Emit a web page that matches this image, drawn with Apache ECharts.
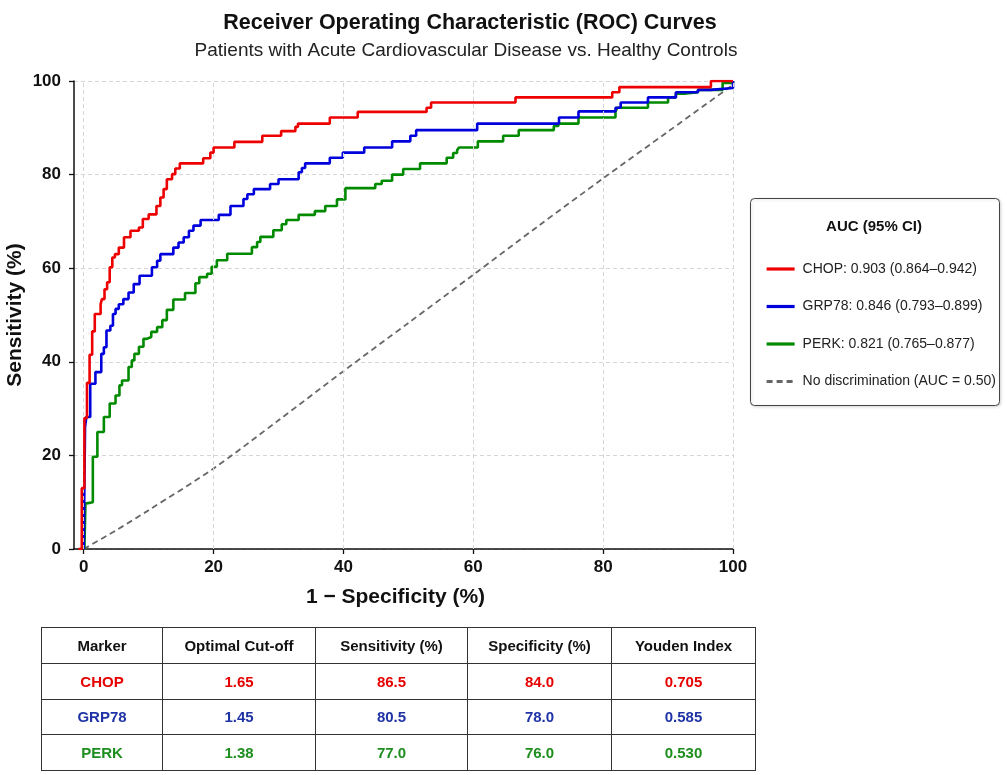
<!DOCTYPE html>
<html>
<head>
<meta charset="utf-8">
<script src="https://cdn.jsdelivr.net/npm/echarts@6/dist/echarts.min.js"></script>
<style>
  html, body { margin: 0; padding: 0; background: #fff; }
  #wrap { position: relative; width: 1007px; height: 775px; }
  #chart { position: absolute; left: 0; top: 0; width: 1007px; height: 775px; }
  #tbl { position: absolute; left: 41px; top: 627px; border-collapse: collapse; table-layout: fixed; width: 714px;
         font-family: "Liberation Sans", Arial, sans-serif; font-weight: bold; }
  #tbl td, #tbl th { border: 1.5px solid #333; text-align: center; padding: 0; height: 34.8px; }
  #tbl th { font-size: 15px; color: #111; }
  #tbl td { font-size: 15px; }
</style>
</head>
<body>
<div id="wrap">
  <div id="chart"></div>
  <table id="tbl"></table>
</div>
<script>
// ---- data ----
const markers = ['CHOP', 'GRP78', 'PERK'];
const aucLabels = ['CHOP: 0.903 (0.864–0.942)', 'GRP78: 0.846 (0.793–0.899)', 'PERK: 0.821 (0.765–0.877)'];
const refLabel = 'No discrimination (AUC = 0.50)';

const chopFpr = [-0.8, -0.3, 0.1, 0.5, 0.9, 1.3, 1.7, 2.6, 2.8, 3.2, 3.6, 4.0, 4.4, 4.8, 5.4, 6.2, 7.2, 8.5, 9.1, 10, 11.2, 11.8, 12.3, 12.8, 13.6, 14.1, 14.8, 18.4, 19.5, 20, 23.2, 27.5, 30.4, 32.6, 33, 37.9, 42.2, 52.8, 53.5, 66.5, 81.4, 82.5, 96.6, 100];
const chopTpr = [0, 13, 28, 35.5, 41.5, 46.5, 50.2, 52.3, 53.4, 55.5, 57, 60.2, 62.3, 63, 64.4, 66.6, 68, 68.7, 70.5, 71.5, 73.3, 75.1, 76.9, 79, 80.1, 81.3, 82.4, 83.5, 84.7, 85.8, 87, 88.3, 89.3, 90.2, 90.9, 92.2, 93.4, 94.3, 95.4, 96.5, 97.6, 98.7, 100, 100];

const grpFpr = [0, 0.2, 0.4, 1.0, 1.8, 2.7, 3.1, 3.5, 4.1, 4.5, 4.9, 5.4, 6.1, 6.9, 7.7, 8.6, 10.5, 11.3, 11.8, 13.8, 14.6, 15.4, 16.2, 16.9, 18, 20.8, 22.6, 24.6, 25.2, 26.2, 28.7, 30, 33.1, 33.6, 34.1, 37.9, 39.9, 43.2, 47.5, 50.3, 51.2, 60.6, 73.2, 76.2, 81.9, 82.7, 86.9, 91.2, 94.6, 96.6, 100];
const grpTpr = [0, 26, 28.2, 35.3, 37.8, 41.7, 43.1, 46.7, 47.7, 50.2, 51.3, 52.3, 53.4, 54.8, 56.6, 58.4, 60.2, 61.6, 63, 64.4, 65.5, 66.6, 68, 69.1, 70.3, 71.4, 73.3, 74.8, 75.8, 76.9, 78, 79, 80.5, 81.4, 82.4, 83.6, 84.7, 85.8, 87.1, 88.3, 89.5, 90.9, 92.2, 93.5, 94.3, 95.4, 96.5, 97.6, 98.1, 98.5, 100];

const perkFpr = [0.1, 0.26, 0.5, 1.4, 2.1, 3.1, 4.0, 4.9, 5.5, 5.9, 6.9, 7.4, 7.8, 8.5, 9.2, 9.7, 10.4, 11.3, 12.1, 12.8, 13.8, 15.6, 17.2, 17.8, 19, 19.7, 20.5, 22.1, 25.9, 26.7, 27.2, 29.2, 30.5, 31.2, 33.1, 35.6, 37.2, 39, 40.3, 44.9, 45.9, 47.5, 49.2, 51.8, 55.9, 56.9, 57.5, 57.8, 60.7, 64.6, 67, 72.4, 73.1, 76.2, 81.9, 82.2, 86.9, 90, 91.2, 92.5, 94.6, 98.4, 99.2, 100];
const perkTpr = [0, 9.7, 10, 19.7, 25, 28.2, 31.1, 32.8, 35, 36, 38.9, 40.3, 41.7, 43.2, 44.9, 45.3, 46.4, 47.4, 48.9, 51.1, 53.3, 54.7, 56.8, 58.1, 58.8, 60.3, 61.7, 63.1, 64.5, 65.6, 66.7, 68.1, 69.4, 70.3, 71.4, 72.2, 73.3, 74.7, 77.1, 78, 78.7, 80, 81.2, 82.4, 83.6, 84.6, 85.2, 85.8, 87.1, 88.3, 89.5, 90.4, 90.9, 92.2, 93.5, 94.3, 95.4, 96.5, 97.3, 97.6, 98.1, 99.6, 99.6, 100];

const refFpr = [0, 5, 10, 20, 30, 40, 50, 60, 70, 80, 90, 100];
const refTpr = [0, 4, 8.3, 17.2, 27.5, 38, 48.3, 58.6, 69, 79.2, 89.2, 99.2];

const tickValues = [0, 20, 40, 60, 80, 100];

const tableHeader = ['Marker', 'Optimal Cut-off', 'Sensitivity (%)', 'Specificity (%)', 'Youden Index'];
const cutoffs = ['1.65', '1.45', '1.38'];
const sensitivities = ['86.5', '80.5', '77.0'];
const specificities = ['84.0', '78.0', '76.0'];
const youden = ['0.705', '0.585', '0.530'];

// ---- styling ----
const lineColors = ['#ee0000', '#0000dd', '#008a00'];
const tableColors = ['#e60000', '#1f33a6', '#1e8e1e'];
const FONT = '"Liberation Sans", Arial, sans-serif';

function pairs(xs, ys) { return xs.map((x, i) => [x, ys[i]]); }

const chart = echarts.init(document.getElementById('chart'), null, { renderer: 'canvas' });

const rocSeries = [
  { fpr: chopFpr, tpr: chopTpr, z: 5 },
  { fpr: grpFpr, tpr: grpTpr, z: 4 },
  { fpr: perkFpr, tpr: perkTpr, z: 3 }
].map((s, i) => ({
  name: markers[i],
  type: 'line',
  step: 'end',
  data: pairs(s.fpr, s.tpr),
  showSymbol: false,
  symbol: 'none',
  z: s.z,
  lineStyle: { color: lineColors[i], width: 2.6 },
  itemStyle: { color: lineColors[i] },
  silent: true
}));

const option = {
  animation: false,
  backgroundColor: '#fff',
  title: [
    { text: 'Receiver Operating Characteristic (ROC) Curves', left: 465, top: 7, textAlign: 'center',
      textStyle: { fontFamily: FONT, fontSize: 21.5, fontWeight: 'bold', color: '#111' } },
    { text: 'Patients with Acute Cardiovascular Disease vs. Healthy Controls', left: 461, top: 36, textAlign: 'center',
      textStyle: { fontFamily: FONT, fontSize: 19, fontWeight: 'normal', color: '#222' } }
  ],
  grid: { left: 74, right: 274, top: 81, bottom: 226, containLabel: false, outerBoundsMode: 'none' },
  xAxis: {
    type: 'value', min: -1.5, max: 100,
    name: '1 − Specificity (%)', nameLocation: 'middle', nameGap: 38,
    nameTextStyle: { fontFamily: FONT, fontSize: 21, fontWeight: 'bold', color: '#111', padding: [0, 16, 0, 0] },
    axisLine: { show: true, onZero: false, lineStyle: { color: '#111', width: 1.5 } },
    axisTick: { show: true, inside: false, length: 5, customValues: tickValues, lineStyle: { color: '#111', width: 1.3 } },
    axisLabel: { customValues: tickValues, margin: 10, fontFamily: FONT, fontSize: 17, fontWeight: 'bold', color: '#111' },
    splitLine: { show: false }
  },
  yAxis: {
    type: 'value', min: 0, max: 100, interval: 20,
    name: 'Sensitivity (%)', nameLocation: 'middle', nameGap: 48, nameMoveOverlap: false,
    nameTextStyle: { fontFamily: FONT, fontSize: 21, fontWeight: 'bold', color: '#111' },
    axisLine: { show: true, onZero: false, lineStyle: { color: '#111', width: 1.5 } },
    axisTick: { show: true, inside: false, length: 5, lineStyle: { color: '#111', width: 1.3 } },
    axisLabel: { margin: 13, fontFamily: FONT, fontSize: 17, fontWeight: 'bold', color: '#111' },
    splitLine: { show: true, lineStyle: { color: '#d6d6d6', width: 1, type: [4, 3] } }
  },
  legend: {
    orient: 'vertical', left: 765, top: 262, padding: 0,
    itemWidth: 28, itemHeight: 14, itemGap: 23.5,
    data: markers.concat([refLabel]),
    itemStyle: { opacity: 0 },
    lineStyle: { width: 3.2 },
    formatter: function (name) {
      const i = markers.indexOf(name);
      return i >= 0 ? aucLabels[i] : name;
    },
    textStyle: { fontFamily: FONT, fontSize: 14, color: '#222', padding: [0, 0, 0, 3] },
    selectedMode: false
  },
  graphic: [
    { type: 'rect', left: 750, top: 198, shape: { width: 249, height: 207, r: 4 }, z: -1,
      style: { fill: '#fff', stroke: '#444', lineWidth: 1, shadowBlur: 3, shadowColor: 'rgba(0,0,0,0.15)', shadowOffsetX: 1, shadowOffsetY: 1 } },
    { type: 'text', z: 10,
      style: { text: 'AUC (95% CI)', x: 874, y: 227, textAlign: 'center', textVerticalAlign: 'middle',
               fontFamily: FONT, fontSize: 15, fontWeight: 'bold', fill: '#111' } }
  ],
  series: [
    {
      name: refLabel, type: 'line', data: pairs(refFpr, refTpr), smooth: 0.3,
      showSymbol: false, symbol: 'none', z: 2, silent: true,
      lineStyle: { color: '#666', width: 1.8, type: [6, 4] },
      itemStyle: { color: '#666' },
      markLine: {
        silent: true, symbol: 'none', label: { show: false },
        lineStyle: { color: '#d6d6d6', width: 1, type: [4, 3] },
        data: tickValues.map(v => ({ xAxis: v }))
      }
    }
  ].concat(rocSeries)
};

chart.setOption(option);

// ---- table ----
const tbl = document.getElementById('tbl');
const colWidths = [121, 153, 152, 144, 144];
let html = '<colgroup>' + colWidths.map(w => '<col style="width:' + w + 'px">').join('') + '</colgroup>';
html += '<tr>' + tableHeader.map(h => '<th>' + h + '</th>').join('') + '</tr>';
markers.forEach((m, i) => {
  const vals = [m, cutoffs[i], sensitivities[i], specificities[i], youden[i]];
  html += '<tr>' + vals.map(v => '<td style="color:' + tableColors[i] + '">' + v + '</td>').join('') + '</tr>';
});
tbl.innerHTML = html;
</script>
</body>
</html>
